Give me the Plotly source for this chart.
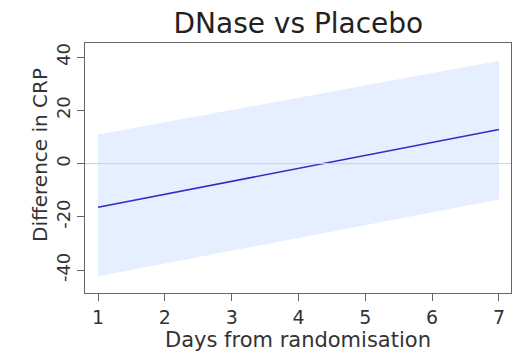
import plotly.graph_objects as go

# Estimated difference in CRP (DNase minus placebo) with 95% confidence band
days = [1, 7]
diff = [-16.4, 12.8]
upper = [10.9, 38.6]
lower = [-42.3, -13.5]

x_ticks = [1, 2, 3, 4, 5, 6, 7]
y_ticks = [-40, -20, 0, 20, 40]
y_tick_labels = ["-40", "-20", "0", "20", "40"]

FONT = "DejaVu Sans"
TEXT = "#333333"

fig = go.Figure()

fig.add_trace(go.Scatter(
    x=days + days[::-1],
    y=upper + lower[::-1],
    fill="toself",
    fillcolor="#e5efff",
    line=dict(width=0),
    mode="lines",
    hoverinfo="skip",
    showlegend=False,
))

fig.add_hline(y=0, line=dict(color="#c8d0dc", width=1))

fig.add_trace(go.Scatter(
    x=days, y=diff, mode="lines",
    line=dict(color="#2e2ec4", width=1.6),
    showlegend=False,
))

axis_common = dict(
    showgrid=False, zeroline=False,
    showline=True, linecolor="#666666", linewidth=1, mirror=True,
    ticks="outside", ticklen=7, tickcolor="#666666",
)

fig.update_layout(
    width=518, height=353,
    margin=dict(l=85, r=7, t=43, b=60),
    paper_bgcolor="white", plot_bgcolor="white",
    title=dict(text="DNase vs Placebo", x=0.576, xanchor="center",
               y=1 - 23 / 353, yanchor="middle",
               font=dict(family=FONT, size=28, color="#222222")),
    xaxis=dict(range=[0.805, 7.18], tickvals=x_ticks,
               tickfont=dict(family=FONT, size=19, color=TEXT),
               **axis_common),
    yaxis=dict(range=[-48.6, 45.3], tickvals=y_ticks, ticktext=y_tick_labels,
               tickangle=-90,
               tickfont=dict(family=FONT, size=18, color=TEXT),
               **axis_common),
    annotations=[
        dict(text="Days from randomisation", xref="paper", yref="paper",
             x=0.5, y=0, xanchor="center", yanchor="middle", yshift=-47,
             showarrow=False, font=dict(family=FONT, size=21, color=TEXT)),
        dict(text="Difference in CRP", xref="paper", yref="paper",
             x=0, y=0.5, xanchor="center", yanchor="middle",
             xshift=-45, yshift=13, textangle=-90,
             showarrow=False, font=dict(family=FONT, size=20, color=TEXT)),
    ],
)

fig.write_html("out.html")
